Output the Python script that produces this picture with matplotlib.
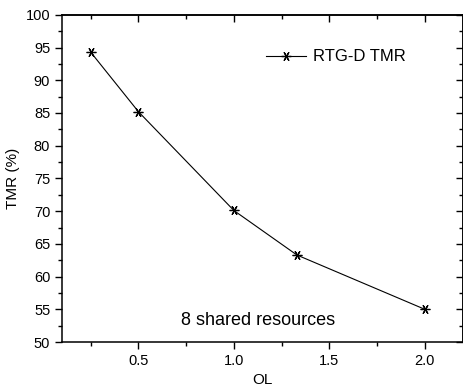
import matplotlib.pyplot as plt
from matplotlib.ticker import MultipleLocator

plt.rcParams['font.family'] = ['Liberation Sans', 'DejaVu Sans']

ol = [0.25, 0.5, 1.0, 1.33, 2.0]
tmr = [94.3, 85.2, 70.1, 63.3, 55.0]

fig = plt.figure(figsize=(4.63, 3.90), dpi=100)
ax = fig.add_axes([0.134, 0.123, 0.866, 0.839])

ax.plot(ol, tmr, color='black', lw=0.8, marker=(6, 2, 90), ms=7, mew=0.9,
        label='RTG-D TMR')

ax.set_xlim(0.1, 2.2)
ax.set_ylim(50, 100)
ax.xaxis.set_major_locator(MultipleLocator(0.5))
ax.xaxis.set_minor_locator(MultipleLocator(0.25))
ax.yaxis.set_major_locator(MultipleLocator(5))
ax.yaxis.set_minor_locator(MultipleLocator(2.5))
ax.set_xticks([0.5, 1.0, 1.5, 2.0])
ax.set_xticklabels(['0.5', '1.0', '1.5', '2.0'])

ax.tick_params(which='both', direction='out', labelsize=10.5, width=1)
ax.tick_params(which='major', length=5)
ax.tick_params(which='minor', length=3)
# inward ticks on the top and right
ax2 = ax.secondary_xaxis('top')
ax2.xaxis.set_major_locator(MultipleLocator(0.5))
ax2.xaxis.set_minor_locator(MultipleLocator(0.25))
ax2.tick_params(which='both', direction='in', labeltop=False, width=1)
ax2.tick_params(which='major', length=5)
ax2.tick_params(which='minor', length=3)
ax3 = ax.secondary_yaxis('right')
ax3.yaxis.set_major_locator(MultipleLocator(5))
ax3.yaxis.set_minor_locator(MultipleLocator(2.5))
ax3.tick_params(which='both', direction='in', labelright=False, width=1)
ax3.tick_params(which='major', length=5)
ax3.tick_params(which='minor', length=3)
for a in (ax, ax2, ax3):
    for s in a.spines.values():
        s.set_linewidth(1.1)

ax.set_xlabel('OL', fontsize=11)
ax.set_ylabel('TMR (%)', fontsize=11)

ax.legend(loc='upper right', bbox_to_anchor=(0.895, 0.94), frameon=False,
          fontsize=12, handlelength=2.4, handletextpad=0.4)
ax.text(0.49, 0.067, '8 shared resources', transform=ax.transAxes, fontsize=13,
        ha='center', va='center')

plt.savefig('out.png', dpi=100)
